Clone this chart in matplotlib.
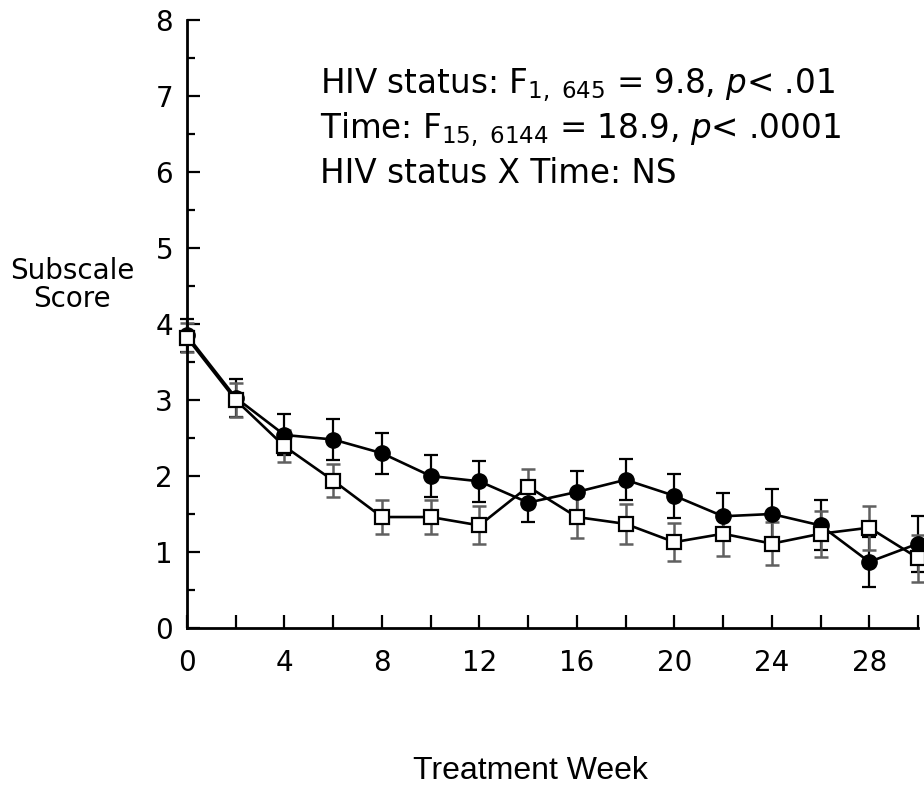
import numpy as np
import matplotlib
matplotlib.use("Agg")
import matplotlib.pyplot as plt
from matplotlib.ticker import MultipleLocator, FixedLocator

plt.rcParams["font.family"] = ["DejaVu Sans"]
plt.rcParams["mathtext.fontset"] = "dejavusans"

# data
weeks = [0, 2, 4, 6, 8, 10, 12, 14, 16, 18, 20, 22, 24, 26, 28, 30]
filled_mean = [3.85, 3.03, 2.54, 2.48, 2.30, 2.00, 1.93, 1.65, 1.79, 1.95,
               1.74, 1.47, 1.50, 1.35, 0.87, 1.11]
filled_err = [0.22, 0.25, 0.27, 0.27, 0.27, 0.27, 0.27, 0.26, 0.28, 0.27,
              0.29, 0.30, 0.33, 0.33, 0.33, 0.37]
open_mean = [3.82, 3.00, 2.39, 1.94, 1.46, 1.46, 1.35, 1.86, 1.46, 1.37,
             1.13, 1.24, 1.11, 1.24, 1.32, 0.92]
open_err = [0.19, 0.22, 0.21, 0.22, 0.22, 0.22, 0.25, 0.23, 0.28, 0.26,
            0.25, 0.29, 0.28, 0.30, 0.29, 0.31]
x_labels = ["0", "4", "8", "12", "16", "20", "24", "28"]

fig = plt.figure(figsize=(9.24, 7.86), dpi=100)
ax = fig.add_axes([187 / 924, 1 - 628 / 786, (918 - 187) / 924, (628 - 20) / 786])

# error bars first, markers on top
ax.errorbar(weeks, filled_mean, yerr=filled_err, fmt="none", ecolor="black",
            elinewidth=1.6, capsize=5, capthick=1.6, zorder=2, clip_on=False)
ax.errorbar(weeks, open_mean, yerr=open_err, fmt="none", ecolor="#606060",
            elinewidth=1.8, capsize=5, capthick=1.8, zorder=2, clip_on=False)
ax.plot(weeks, filled_mean, color="black", lw=1.9, marker="o", ms=11,
        mfc="black", mec="black", zorder=3, clip_on=False)
ax.plot(weeks, open_mean, color="black", lw=1.9, marker="s", ms=10,
        mfc="white", mec="black", mew=1.6, zorder=4, clip_on=False)

ax.set_xlim(0, 30)
ax.set_ylim(0, 8)
for s in ["top", "right"]:
    ax.spines[s].set_visible(False)
for s in ["left", "bottom"]:
    ax.spines[s].set_linewidth(2)

ax.xaxis.set_major_locator(FixedLocator(list(range(0, 29, 4))))
ax.set_xticklabels(x_labels)
ax.xaxis.set_minor_locator(FixedLocator(list(range(2, 31, 4))))
ax.yaxis.set_major_locator(MultipleLocator(1))
ax.yaxis.set_minor_locator(MultipleLocator(0.5))
ax.tick_params(axis="both", which="both", direction="in", width=1.6, colors="black")
ax.tick_params(axis="both", which="major", length=9.5, labelsize=20)
ax.tick_params(axis="y", which="major", pad=10)
ax.tick_params(axis="x", which="major", pad=15)
ax.tick_params(axis="y", which="minor", length=6)
ax.tick_params(axis="x", which="minor", length=9.5)

fig.text(72 / 924, 1 - 285 / 786, "Subscale\nScore", ha="center", va="center",
         fontsize=20, linespacing=1.0)
fig.text(530 / 924, 1 - 771 / 786, "Treatment Week", ha="center", va="center",
         fontsize=23, family="Liberation Sans")

lines = [
    r"HIV status: $\mathregular{F_{1,\ 645}}$ = 9.8, $\it{p}$< .01",
    r"Time: $\mathregular{F_{15,\ 6144}}$ = 18.9, $\it{p}$< .0001",
    "HIV status X Time: NS",
]
for txt, yb in zip(lines, [93, 138, 183]):
    fig.text(320 / 924, 1 - yb / 786, txt, ha="left", va="baseline", fontsize=23.5)

fig.savefig("out.png", dpi=100)
